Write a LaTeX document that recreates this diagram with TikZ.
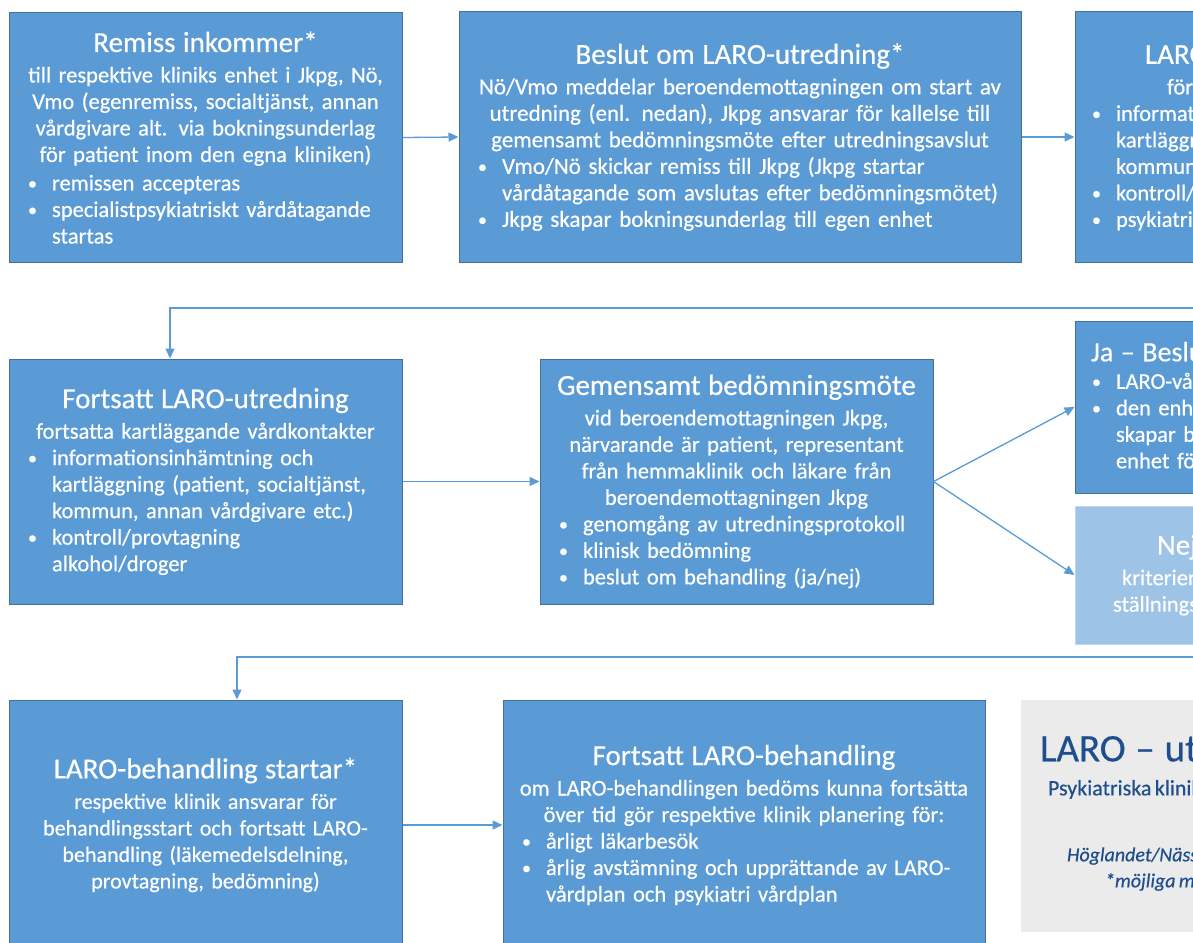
\documentclass[tikz,border=0pt]{standalone}
\usepackage{fontspec}
\setmainfont{Carlito}[FakeBold=0.5]
\usetikzlibrary{arrows.meta}
\definecolor{boxfill}{HTML}{5B9BD5}
\definecolor{boxline}{HTML}{41719C}
\definecolor{lightfill}{HTML}{9DC3E6}
\definecolor{lightline}{HTML}{BDD7EE}
\definecolor{grayfill}{HTML}{EBEBEB}
\definecolor{navy}{HTML}{1F4E8C}
\definecolor{conn}{HTML}{5B9BD5}
\newcommand\Ttl[1]{{\fontsize{29}{34}\selectfont #1\par}\vspace{4pt}}
\newcommand\Bul[1]{\par\hangindent=24pt\hangafter=1\noindent\makebox[24pt][l]{\raisebox{1pt}{\fontsize{18}{18}\selectfont\textbullet}}#1\par}
\newcommand\BodyFont{\fontsize{22.5}{26.5}\selectfont}
\tikzset{
  flowbox/.style={draw=boxline, fill=boxfill, line width=1pt, text=white,
    inner sep=0pt, font=\BodyFont},
  lightbox/.style={draw=lightline, fill=lightfill, line width=1pt, text=white,
    inner sep=0pt, font=\BodyFont},
  graybox/.style={fill=grayfill, draw=none, inner sep=0pt},
  arr/.style={draw=conn, line width=1.3pt, -{Triangle[length=10pt,width=9pt]}},
}
\begin{document}
\begin{tikzpicture}[x=1pt,y=-1pt]
\useasboundingbox (0,0) rectangle (1193,942);
\clip (0,0) rectangle (1193,942);

% Row 1
\node[flowbox, minimum width=393pt, minimum height=249pt, text width=393pt] (b1) at (205.5,137.5) {%
{\centering\Ttl{Remiss inkommer*}till respektive kliniks enhet i Jkpg, Nö,\\
Vmo (egenremiss, socialtjänst, annan\\
vårdgivare alt. via bokningsunderlag\\
för patient inom den egna kliniken)\par}\vspace{2pt}
{\raggedright\leftskip=19pt
\Bul{remissen accepteras}
\Bul{specialistpsykiatriskt vårdåtagande\newline startas}}};

\node[flowbox, minimum width=562pt, minimum height=250pt, text width=562pt, font=\fontsize{23}{26.5}\selectfont] (b2) at (740,137) {%
{\centering\Ttl{Beslut om LARO-utredning*}Nö/Vmo meddelar beroendemottagningen om start av\\
utredning (enl. nedan), Jkpg ansvarar för kallelse till\\
gemensamt bedömningsmöte efter utredningsavslut\par}
{\raggedright\leftskip=19pt
\Bul{Vmo/Nö skickar remiss till Jkpg (Jkpg startar\newline vårdåtagande som avslutas efter bedömningsmötet)}
\Bul{Jkpg skapar bokningsunderlag till egen enhet}}};

\node[flowbox, minimum width=393pt, minimum height=250pt, text width=393pt] (b3) at (1271.5,137) {%
{\raggedright\fontsize{29}{34}\selectfont\hspace*{70pt}\mbox{LARO-utredning startar*}\par}\vspace{4pt}
{\raggedright\hspace*{92pt}\mbox{första kartläggande vårdkontakter}\par}
{\raggedright\leftskip=17pt
\Bul{\mbox{informationsinhämtning och}\newline \mbox{kartläggning (patient, socialtjänst,}\newline \mbox{kommun, annan vårdgivare etc.)}}
\Bul{\mbox{kontroll/provtagning alkohol/droger}}
\Bul{\mbox{psykiatrisk bedömning}}}};

% Row 2
\node[flowbox, minimum width=393pt, minimum height=245pt, text width=393pt] (b4) at (205.5,481.5) {%
{\centering\Ttl{Fortsatt LARO-utredning}fortsatta kartläggande vårdkontakter\par}
{\raggedright\leftskip=19pt
\Bul{informationsinhämtning och\newline kartläggning (patient, socialtjänst,\newline kommun, annan vårdgivare etc.)}
\Bul{kontroll/provtagning\newline alkohol/droger}}};

\node[flowbox, minimum width=393pt, minimum height=245pt, text width=393pt] (b5) at (736.5,481.5) {%
{\centering\Ttl{Gemensamt bedömningsmöte}vid beroendemottagningen Jkpg,\\
närvarande är patient, representant\\
från hemmaklinik och läkare från\\
beroendemottagningen Jkpg\par}
{\raggedright\leftskip=19pt
\Bul{genomgång av utredningsprotokoll}
\Bul{klinisk bedömning}
\Bul{beslut om behandling (ja/nej)}}};

\node[flowbox, minimum width=393pt, minimum height=172pt, text width=393pt] (b6) at (1271.5,407) {%
{\raggedright\leftskip=16pt\fontsize{28}{34}\selectfont \mbox{Ja -- Beslut om LARO-behandling}\par}\vspace{1pt}
{\raggedright\leftskip=17pt
\Bul{\mbox{LARO-vårdåtagande startas}}
\Bul{\mbox{den enhet som ska ansvara för}\newline \mbox{skapar bokningsunderlag till egen}\newline \mbox{enhet för LARO-behandlingsstart}}}};

\node[lightbox, minimum width=393pt, minimum height=138pt, text width=393pt] (b7) at (1271.5,575) {%
{\raggedright\fontsize{29}{34}\selectfont\hspace*{82pt}\mbox{Nej -- avslut}\par}\vspace{4pt}
{\raggedright\hspace*{47pt}\mbox{kriterier för LARO uppfylls ej,}\\
\hspace*{38pt}\mbox{ställningstagande till fortsatt vård}\par}};

% Row 3
\node[flowbox, minimum width=393pt, minimum height=250pt, text width=393pt, font=\fontsize{22}{26.5}\selectfont] (b8) at (205.5,825) {%
{\centering\Ttl{LARO-behandling startar*}respektive klinik ansvarar för\\
behandlingsstart och fortsatt LARO-\\
behandling (läkemedelsdelning,\\
provtagning, bedömning)\par}};

\node[flowbox, minimum width=482pt, minimum height=250pt, text width=482pt] (b9) at (744,825) {%
{\centering\Ttl{Fortsatt LARO-behandling}om LARO-behandlingen bedöms kunna fortsätta\\
över tid gör respektive klinik planering för:\par}
{\raggedright\leftskip=19pt
\Bul{årligt läkarbesök}
\Bul{årlig avstämning och upprättande av LARO-\newline vårdplan och psykiatri vårdplan}}};

\node[graybox, minimum width=400pt, minimum height=232pt, text width=400pt, text=navy] (b10) at (1221,816) {%
{\raggedright\fontsize{39}{44}\selectfont\hspace*{19pt}\mbox{LARO \,--\, utredning och behandling}\par}\vspace{8pt}
{\raggedright\fontsize{22}{26}\selectfont\hspace*{27pt}\mbox{Psykiatriska kliniken, Region Jönköpings län}\par}\vspace{40pt}
{\raggedright\fontsize{20}{26}\selectfont\itshape\hspace*{46pt}\mbox{Höglandet/Nässjö, Värnamo, Jönköping}\\
\hspace*{84pt}\mbox{*möjliga moment för distanskontakt}\par}\vspace{7pt}};

% connectors
\coordinate (r1) at (1200,308);
\coordinate (k1) at (170,308);
\coordinate (r2) at (1200,657);
\coordinate (k2) at (237,657);
\draw[arr] (b1.east) -- (b2.west);
\draw[arr] (b2.east) -- (b3.west);
\draw[arr] (r1) -- (k1) -- (k1 |- b4.north);
\draw[arr] (b4.east) -- (b5.west);
\draw[arr] (b5.east) -- (b6.west);
\draw[arr] (b5.east) -- (b7.west);
\draw[arr] (r2) -- (k2) -- (k2 |- b8.north);
\draw[arr] (b8.east) -- (b9.west);
\end{tikzpicture}
\end{document}
